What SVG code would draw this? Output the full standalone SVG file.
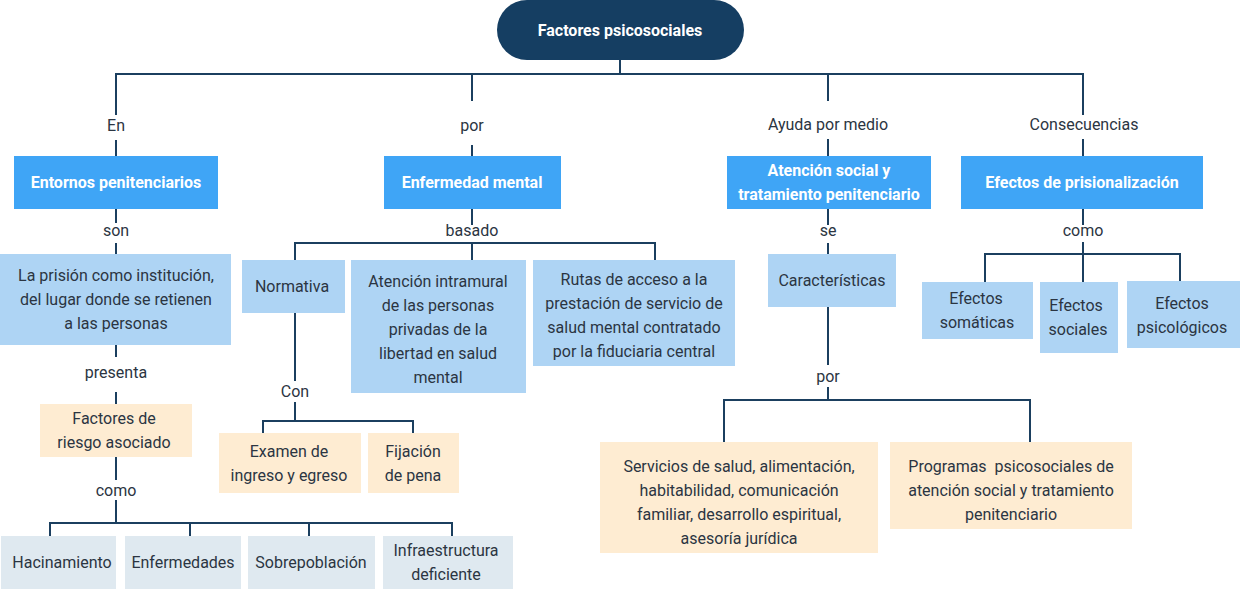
<svg xmlns="http://www.w3.org/2000/svg" width="1241" height="590" viewBox="0 0 1241 590">
<style>
text{font-family:Roboto,"Liberation Sans",sans-serif;font-size:16px;fill:#2b3542;text-anchor:middle}
.h{font-weight:bold;fill:#ffffff}
.dk{fill:#153e62}
.bl{fill:#3fa5f6}
.lb{fill:#aed4f4}
.cr{fill:#feecd2}
.gr{fill:#dfe9f0}
.c{stroke:#1b3f5f;stroke-width:2;fill:none}
</style>
<rect width="1241" height="590" fill="#ffffff"/>
<g id="connectors" class="c">
<path d="M620 60V74M116 115V74H1083V115M472 74V101M828 74V101"/>
<path d="M116 140V156M472 145V156M828 139V156M1083 139V156"/>
<path d="M116 209V223M116 243V254M116 345V357M116 392V404M116 457V480M116 500V523M50 537V523H452V537M190 523V537M309 523V537"/>
<path d="M472 209V225M295 260V243H655V260M472 243V260M295 313V381M295 402V421M263 434V421H413V434"/>
<path d="M828 209V225M828 243V254M828 307V365M828 387V400M724 442V400H1030V442"/>
<path d="M1083 209V225M1083 242V282M985 282V254H1180V282"/>
</g>
<g id="n-root"><rect class="dk" x="497" y="0" width="247" height="60" rx="30"/><text class="h" x="620" y="36">Factores psicosociales</text></g>
<g id="l-en"><text x="116" y="131">En</text></g>
<g id="l-por1"><text x="472" y="131">por</text></g>
<g id="l-ayuda"><text x="828" y="130">Ayuda por medio</text></g>
<g id="l-cons"><text x="1084" y="130">Consecuencias</text></g>
<g id="n-entornos"><rect class="bl" x="14" y="156" width="204" height="53"/><text class="h" x="116" y="188">Entornos penitenciarios</text></g>
<g id="n-enfermedad"><rect class="bl" x="384" y="156" width="177" height="53"/><text class="h" x="472" y="188">Enfermedad mental</text></g>
<g id="n-atencion"><rect class="bl" x="727" y="156" width="204" height="53"/><text class="h" x="829" y="176">Atención social y</text><text class="h" x="829" y="200">tratamiento penitenciario</text></g>
<g id="n-efectos"><rect class="bl" x="961" y="156" width="242" height="53"/><text class="h" x="1082" y="188">Efectos de prisionalización</text></g>
<g id="l-son"><text x="116" y="236">son</text></g>
<g id="l-basado"><text x="472" y="236">basado</text></g>
<g id="l-se"><text x="828" y="236">se</text></g>
<g id="l-como2"><text x="1083" y="236">como</text></g>
<g id="n-prision"><rect class="lb" x="0" y="254" width="231" height="91"/><text x="116" y="281">La prisión como institución,</text><text x="116" y="305">del lugar donde se retienen</text><text x="116" y="329">a las personas</text></g>
<g id="l-presenta"><text x="116" y="378">presenta</text></g>
<g id="n-factores"><rect class="cr" x="40" y="404" width="152" height="53"/><text x="114" y="424">Factores de</text><text x="114" y="448">riesgo asociado</text></g>
<g id="l-como1"><text x="116" y="496">como</text></g>
<g id="n-hacin"><rect class="gr" x="1" y="536" width="115" height="53"/><text x="62" y="568">Hacinamiento</text></g>
<g id="n-enfer"><rect class="gr" x="125" y="536" width="116" height="53"/><text x="183" y="568">Enfermedades</text></g>
<g id="n-sobre"><rect class="gr" x="248" y="536" width="127" height="53"/><text x="311" y="568">Sobrepoblación</text></g>
<g id="n-infra"><rect class="gr" x="383" y="536" width="130" height="53"/><text x="446" y="556">Infraestructura</text><text x="446" y="580">deficiente</text></g>
<g id="n-normativa"><rect class="lb" x="242" y="260" width="103" height="53"/><text x="292" y="292">Normativa</text></g>
<g id="n-intramural"><rect class="lb" x="351" y="260" width="175" height="133"/><text x="438" y="287">Atención intramural</text><text x="438" y="311">de las personas</text><text x="438" y="335">privadas de la</text><text x="438" y="359">libertad en salud</text><text x="438" y="383">mental</text></g>
<g id="n-rutas"><rect class="lb" x="533" y="260" width="202" height="106"/><text x="634" y="285">Rutas de acceso a la</text><text x="634" y="309">prestación de servicio de</text><text x="634" y="333">salud mental contratado</text><text x="634" y="357">por la fiduciaria central</text></g>
<g id="l-con"><text x="295" y="397">Con</text></g>
<g id="n-examen"><rect class="cr" x="219" y="433" width="142" height="60"/><text x="289" y="457">Examen de</text><text x="289" y="481">ingreso y egreso</text></g>
<g id="n-fijacion"><rect class="cr" x="368" y="433" width="91" height="60"/><text x="413" y="457">Fijación</text><text x="413" y="481">de pena</text></g>
<g id="n-caract"><rect class="lb" x="768" y="254" width="128" height="53"/><text x="832" y="286">Características</text></g>
<g id="l-por2"><text x="828" y="382">por</text></g>
<g id="n-servicios"><rect class="cr" x="600" y="442" width="278" height="111"/><text x="739" y="472">Servicios de salud, alimentación,</text><text x="739" y="496">habitabilidad, comunicación</text><text x="739" y="520">familiar, desarrollo espiritual,</text><text x="739" y="544">asesoría jurídica</text></g>
<g id="n-programas"><rect class="cr" x="890" y="442" width="242" height="87"/><text x="1011" y="472" xml:space="preserve">Programas  psicosociales de</text><text x="1011" y="496">atención social y tratamiento</text><text x="1011" y="520">penitenciario</text></g>
<g id="n-somat"><rect class="lb" x="922" y="282" width="111" height="57"/><text x="976" y="304">Efectos</text><text x="977" y="328">somáticas</text></g>
<g id="n-social"><rect class="lb" x="1040" y="282" width="78" height="71"/><text x="1076" y="311">Efectos</text><text x="1078" y="335">sociales</text></g>
<g id="n-psico"><rect class="lb" x="1127" y="281" width="113" height="67"/><text x="1182" y="309">Efectos</text><text x="1182" y="333">psicológicos</text></g>
</svg>
